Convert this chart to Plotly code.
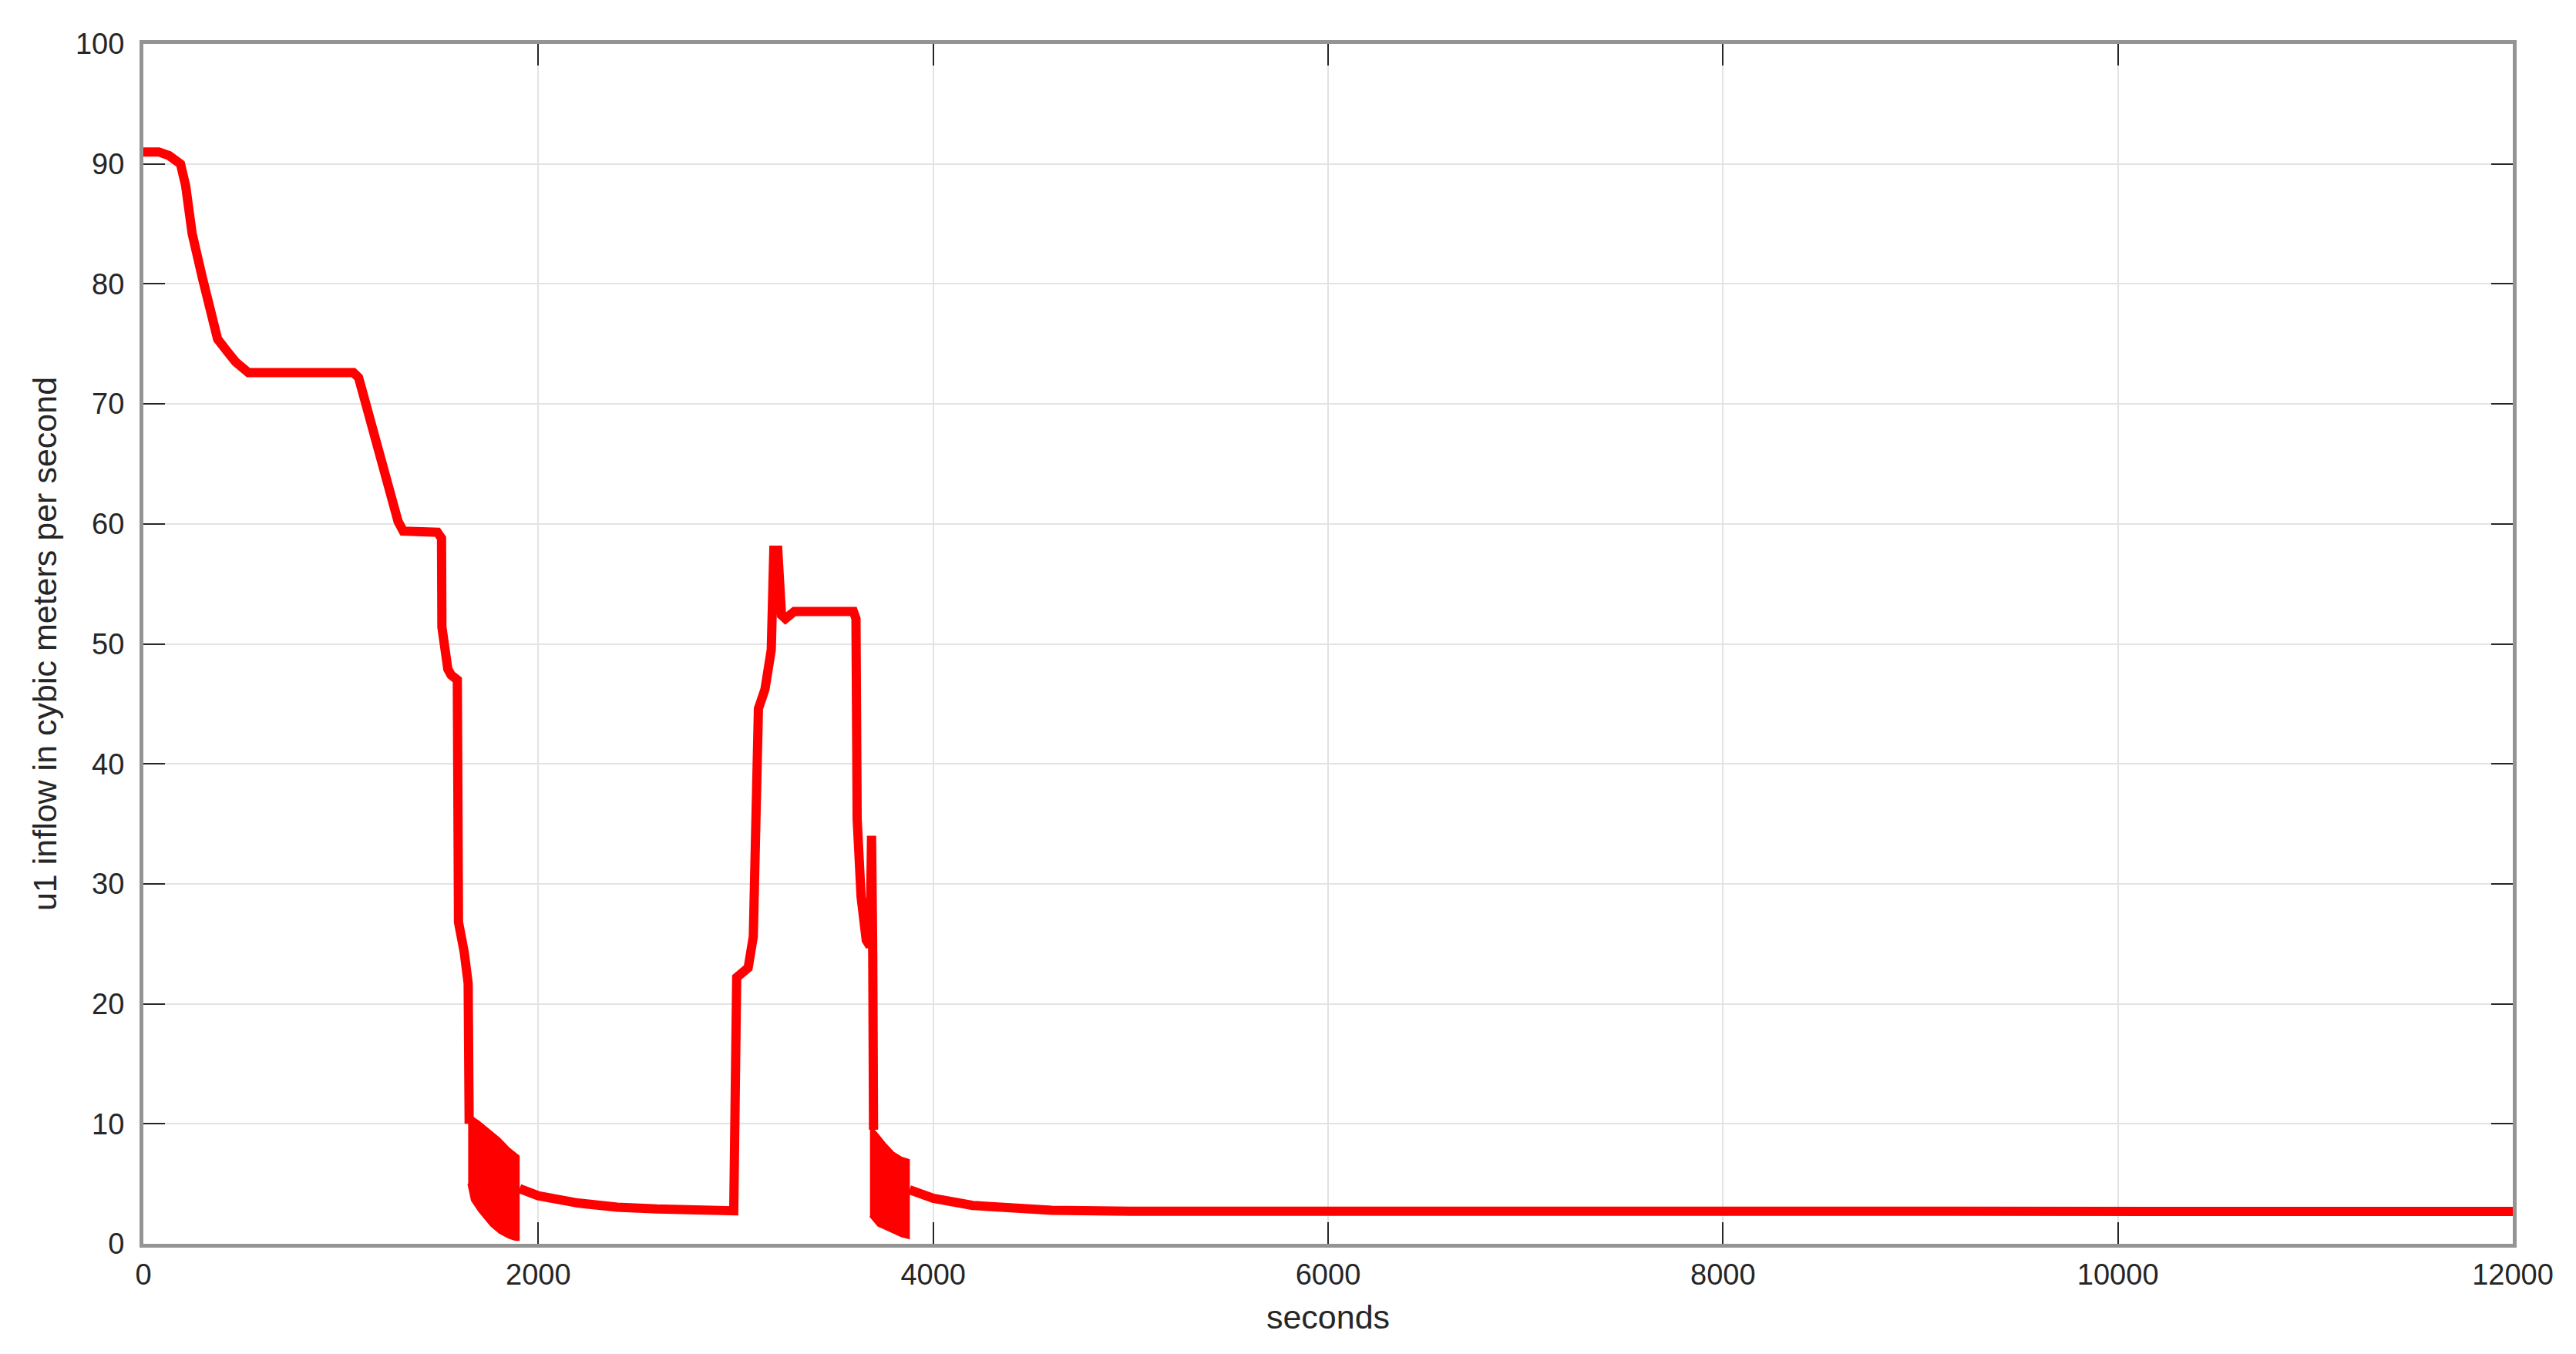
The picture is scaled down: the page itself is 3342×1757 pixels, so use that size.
import plotly.graph_objects as go

# main trace (None = gap where the oscillating band sits)
t_main = [
    0, 78, 130, 188, 214, 247, 299, 344, 376, 428, 467, 532, 1064, 1090, 1290,
    1316, 1489, 1510, 1512, 1542, 1559, 1590, 1596, 1625, 1645, 1650, None,
    1905, 2000, 2200, 2400, 2600, 2800, 2990, 3005, 3063, 3089, 3102, 3115,
    3148, 3180, 3193, 3213, 3232, 3252, 3297, 3596, 3609, 3615, 3635, 3661,
    3680, 3688, 3694, 3698, None,
    3880, 4000, 4200, 4400, 4600, 5000, 6000, 12000,
]
u_main = [
    91.0, 91.0, 90.7, 90.0, 88.2, 84.2, 80.5, 77.1, 75.4, 74.3, 73.5, 72.6, 72.6, 72.2, 60.2,
    59.4, 59.3, 58.8, 51.4, 47.9, 47.4, 47.0, 26.8, 24.3, 21.7, 10.0, None,
    4.6, 4.0, 3.4, 3.05, 2.9, 2.8, 2.75, 22.2, 23.0, 25.6, 35.4, 44.6,
    46.2, 49.5, 57.8, 57.8, 52.4, 52.1, 52.7, 52.7, 52.1, 35.4, 28.9, 25.3,
    24.8, 34.0, 24.0, 9.5, None,
    4.5, 3.8, 3.2, 2.95, 2.8, 2.72, 2.7, 2.7,
]

# envelopes of the two fast-oscillation bands
band1_t = [1645, 1663, 1700, 1723, 1760, 1803, 1850, 1885, 1902]
band1_upper = [10.6, 10.6, 10.2, 9.9, 9.4, 8.8, 8.0, 7.5, 7.3]
band1_lower = [5.0, 3.6, 2.7, 2.2, 1.5, 0.9, 0.5, 0.3, 0.3]

band2_t = [3680, 3700, 3721, 3760, 3800, 3840, 3878]
band2_upper = [9.6, 9.5, 9.1, 8.3, 7.6, 7.2, 7.0]
band2_lower = [2.3, 1.9, 1.5, 1.2, 0.9, 0.6, 0.45]

x_ticks = [0, 2000, 4000, 6000, 8000, 10000, 12000]
y_ticks = [0, 10, 20, 30, 40, 50, 60, 70, 80, 90, 100]

RED = "#ff0000"
FONT = "Liberation Sans, Arial, sans-serif"
TEXT = "#262626"

fig = go.Figure()

for bt, up, lo in [(band1_t, band1_upper, band1_lower), (band2_t, band2_upper, band2_lower)]:
    fig.add_trace(
        go.Scatter(
            x=bt + bt[::-1],
            y=up + lo[::-1],
            fill="toself",
            fillcolor=RED,
            mode="lines",
            line=dict(color=RED, width=2),
            hoverinfo="skip",
            showlegend=False,
        )
    )

fig.add_trace(
    go.Scatter(
        x=t_main,
        y=u_main,
        mode="lines",
        line=dict(color=RED, width=12),
        showlegend=False,
    )
)

axis_common = dict(
    showgrid=True,
    gridcolor="#e3e3e3",
    gridwidth=2,
    zeroline=False,
    showline=True,
    linecolor="#949494",
    linewidth=5,
    mirror="ticks",
    ticks="inside",
    ticklen=28,
    tickwidth=2,
    tickcolor=TEXT,
    tickfont=dict(family=FONT, size=38, color=TEXT),
)

fig.update_layout(
    width=3342,
    height=1757,
    paper_bgcolor="white",
    plot_bgcolor="white",
    margin=dict(l=178, r=90, t=49, b=151),
    font=dict(family=FONT, color=TEXT),
)

fig.update_xaxes(
    range=[0, 12000],
    tickvals=x_ticks,
    ticktext=[str(v) for v in x_ticks],
    ticklabelstandoff=2,
    title=dict(text="seconds", font=dict(family=FONT, size=43, color=TEXT), standoff=22),
    **axis_common,
)
fig.update_yaxes(
    range=[0, 100],
    tickvals=y_ticks,
    ticktext=[str(v) for v in y_ticks],
    ticklabelstandoff=12,
    title=dict(
        text="u1 inflow in cybic meters per second",
        font=dict(family=FONT, size=43, color=TEXT),
        standoff=12,
    ),
    **axis_common,
)

fig.write_html("out.html")
